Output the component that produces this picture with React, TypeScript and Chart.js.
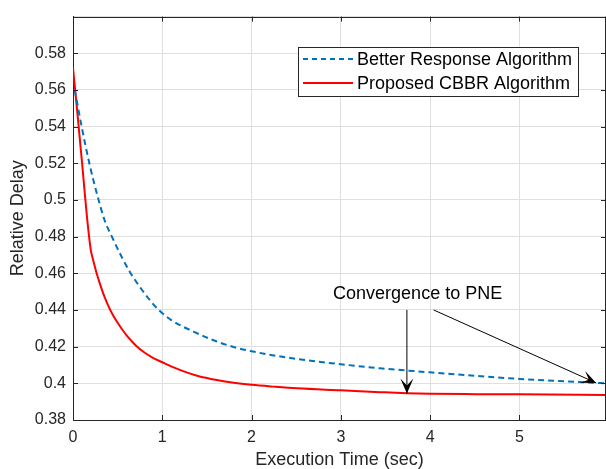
import React, { useEffect, useRef } from "react";
import { Chart, registerables } from "chart.js";

Chart.register(...registerables);

// Better Response Algorithm (blue dashed)
const blueX = [0.02, 0.1, 0.183, 0.23, 0.284, 0.35, 0.445, 0.55, 0.64, 0.75, 0.85, 0.96, 1.1, 1.35, 1.61, 1.8, 2.0, 2.25, 2.51, 3.0, 3.44, 4.0, 4.5, 5.0, 5.5, 5.97];
const blueY = [0.56, 0.5392, 0.52, 0.5105, 0.5005, 0.4895, 0.479, 0.4685, 0.4605, 0.4525, 0.446, 0.44, 0.4345, 0.4282, 0.4228, 0.4198, 0.4175, 0.4152, 0.4133, 0.4104, 0.4082, 0.406, 0.4041, 0.4024, 0.4011, 0.4];

// Proposed CBBR Algorithm (red solid)
const redX = [0, 0.05, 0.1, 0.135, 0.16, 0.18, 0.2, 0.23, 0.265, 0.3, 0.35, 0.407, 0.45, 0.5, 0.553, 0.6, 0.65, 0.7, 0.8, 0.9, 1.0, 1.12, 1.24, 1.4, 1.61, 1.8, 2.0, 2.25, 2.51, 3.0, 3.44, 3.74, 4.0, 4.5, 5.0, 5.97];
const redY = [0.572, 0.547, 0.521, 0.502, 0.489, 0.48, 0.4725, 0.4665, 0.46, 0.4545, 0.4475, 0.441, 0.437, 0.433, 0.4292, 0.4262, 0.4234, 0.4208, 0.4168, 0.4138, 0.4115, 0.4088, 0.4065, 0.404, 0.4018, 0.4003, 0.3992, 0.3982, 0.3973, 0.3962, 0.3952, 0.3946, 0.3943, 0.3941, 0.394, 0.3937];

const seriesNames = ["Better Response Algorithm", "Proposed CBBR Algorithm"];
const seriesColors = ["#0072BD", "#FF0000"];

const xTickValues = [0, 1, 2, 3, 4, 5];
const yTickValues = [0.38, 0.4, 0.42, 0.44, 0.46, 0.48, 0.5, 0.52, 0.54, 0.56, 0.58];

const annotationText = "Convergence to PNE";
const annotationTextPos = [3.86, 0.4459];
const arrowA = [[3.74, 0.44], [3.74, 0.3944]];
const arrowB = [[4.04, 0.44], [5.86, 0.4002]];

const FONT = "'Liberation Sans', Arial, Helvetica, sans-serif";
const AXIS_COLOR = "#262626";
const GRID_COLOR = "#dfdfdf";

function drawArrowHead(ctx: CanvasRenderingContext2D, x1: number, y1: number, x2: number, y2: number) {
  const ang = Math.atan2(y2 - y1, x2 - x1);
  const L = 15;
  const W = 6.5;
  const notch = 8;
  const cos = Math.cos(ang);
  const sin = Math.sin(ang);
  const pt = (a: number, b: number) => [x2 - a * cos + b * sin, y2 - a * sin - b * cos];
  const p1 = pt(L, W);
  const p2 = pt(notch, 0);
  const p3 = pt(L, -W);
  ctx.beginPath();
  ctx.moveTo(x2, y2);
  ctx.lineTo(p1[0], p1[1]);
  ctx.lineTo(p2[0], p2[1]);
  ctx.lineTo(p3[0], p3[1]);
  ctx.closePath();
  ctx.fill();
}

const customPlugin = {
  id: "matlabExtras",
  afterDraw(chart: any) {
    const { ctx, chartArea } = chart;
    const xs = chart.scales.x;
    const ys = chart.scales.y;
    const { left, right, top, bottom } = chartArea;
    ctx.save();
    // box top/right
    ctx.strokeStyle = AXIS_COLOR;
    ctx.lineWidth = 1;
    ctx.beginPath();
    ctx.moveTo(left, Math.round(top) + 0.5);
    ctx.lineTo(right, Math.round(top) + 0.5);
    ctx.moveTo(Math.round(right) - 0.5, top);
    ctx.lineTo(Math.round(right) - 0.5, bottom);
    ctx.stroke();
    // inner ticks
    const tl = 5;
    ctx.beginPath();
    xTickValues.forEach((v) => {
      const px = Math.round(xs.getPixelForValue(v)) + 0.5;
      ctx.moveTo(px, bottom);
      ctx.lineTo(px, bottom - tl);
      ctx.moveTo(px, top);
      ctx.lineTo(px, top + tl);
    });
    yTickValues.forEach((v) => {
      const py = Math.round(ys.getPixelForValue(v)) + 0.5;
      ctx.moveTo(left, py);
      ctx.lineTo(left + tl, py);
      ctx.moveTo(right, py);
      ctx.lineTo(right - tl, py);
    });
    ctx.stroke();

    // annotation arrows
    ctx.strokeStyle = "#000";
    ctx.fillStyle = "#000";
    ctx.lineWidth = 1;
    [arrowA, arrowB].forEach((a) => {
      const x1 = xs.getPixelForValue(a[0][0]);
      const y1 = ys.getPixelForValue(a[0][1]);
      const x2 = xs.getPixelForValue(a[1][0]);
      const y2 = ys.getPixelForValue(a[1][1]);
      ctx.beginPath();
      ctx.moveTo(x1, y1);
      ctx.lineTo(x2, y2);
      ctx.stroke();
      drawArrowHead(ctx, x1, y1, x2, y2);
    });
    ctx.font = `18px ${FONT}`;
    ctx.textAlign = "center";
    ctx.textBaseline = "alphabetic";
    ctx.fillText(annotationText, xs.getPixelForValue(annotationTextPos[0]), ys.getPixelForValue(annotationTextPos[1]));

    // legend
    const bx = right - 28 - 280;
    const by = top + 30;
    const bw = 280;
    const bh = 49;
    ctx.fillStyle = "#fff";
    ctx.fillRect(bx, by, bw, bh);
    ctx.strokeStyle = AXIS_COLOR;
    ctx.lineWidth = 1;
    ctx.strokeRect(Math.round(bx) + 0.5, Math.round(by) + 0.5, bw, bh);
    const rows = [by + 12.5, by + 36.5];
    rows.forEach((ry, i) => {
      ctx.strokeStyle = seriesColors[i];
      ctx.lineWidth = 2;
      ctx.setLineDash(i === 0 ? [5, 4] : []);
      ctx.beginPath();
      ctx.moveTo(bx + 5, ry);
      ctx.lineTo(bx + 55, ry);
      ctx.stroke();
      ctx.setLineDash([]);
      ctx.fillStyle = "#000";
      ctx.font = `18px ${FONT}`;
      ctx.textAlign = "left";
      ctx.textBaseline = "middle";
      ctx.fillText(seriesNames[i], bx + 59, ry + 1);
    });
    ctx.restore();
  },
};

export default function App() {
  const ref = useRef<HTMLCanvasElement | null>(null);
  useEffect(() => {
    document.body.style.margin = "0";
    const canvas = ref.current;
    if (!canvas) return;
    const chart = new Chart(canvas, {
      type: "line",
      data: {
        datasets: [
          {
            label: seriesNames[0],
            data: blueX.map((x, i) => ({ x, y: blueY[i] })),
            borderColor: seriesColors[0],
            borderWidth: 2,
            borderDash: [6, 4],
            pointRadius: 0,
            cubicInterpolationMode: "monotone",
            fill: false,
          },
          {
            label: seriesNames[1],
            data: redX.map((x, i) => ({ x, y: redY[i] })),
            borderColor: seriesColors[1],
            borderWidth: 2,
            pointRadius: 0,
            cubicInterpolationMode: "monotone",
            fill: false,
          },
        ],
      },
      options: {
        responsive: false,
        animation: false,
        devicePixelRatio: 1,
        layout: { padding: { top: 13, right: 0, left: 0, bottom: 0 } },
        plugins: { legend: { display: false }, tooltip: { enabled: false } },
        scales: {
          x: {
            type: "linear",
            min: 0,
            max: 5.97,
            afterFit: (s: any) => {
              s.height = 49;
            },
            ticks: {
              stepSize: 1,
              includeBounds: false,
              padding: 8,
              color: AXIS_COLOR,
              font: { size: 16, family: FONT },
              callback: (v: any) => String(v),
            },
            grid: { color: GRID_COLOR, drawTicks: false },
            border: { display: true, color: AXIS_COLOR, width: 1 },
            title: {
              display: true,
              text: "Execution Time (sec)",
              color: AXIS_COLOR,
              font: { size: 18, family: FONT, lineHeight: 1 },
              padding: { top: 0, bottom: 0 },
            },
          },
          y: {
            type: "linear",
            min: 0.38,
            max: 0.6,
            afterFit: (s: any) => {
              s.width = 73;
            },
            ticks: {
              stepSize: 0.02,
              padding: 7,
              color: AXIS_COLOR,
              font: { size: 16, family: FONT },
              callback: (v: any) => (v > 0.59 ? "" : String(Math.round(v * 100) / 100)),
            },
            grid: { color: GRID_COLOR, drawTicks: false },
            border: { display: true, color: AXIS_COLOR, width: 1 },
            title: {
              display: true,
              text: "Relative Delay",
              color: AXIS_COLOR,
              font: { size: 18, family: FONT, lineHeight: 1 },
              padding: { top: 9, bottom: 9 },
            },
          },
        },
      },
      plugins: [customPlugin],
    } as any);
    return () => chart.destroy();
  }, []);
  return <canvas ref={ref} width={606} height={469} style={{ display: "block" }} />;
}
